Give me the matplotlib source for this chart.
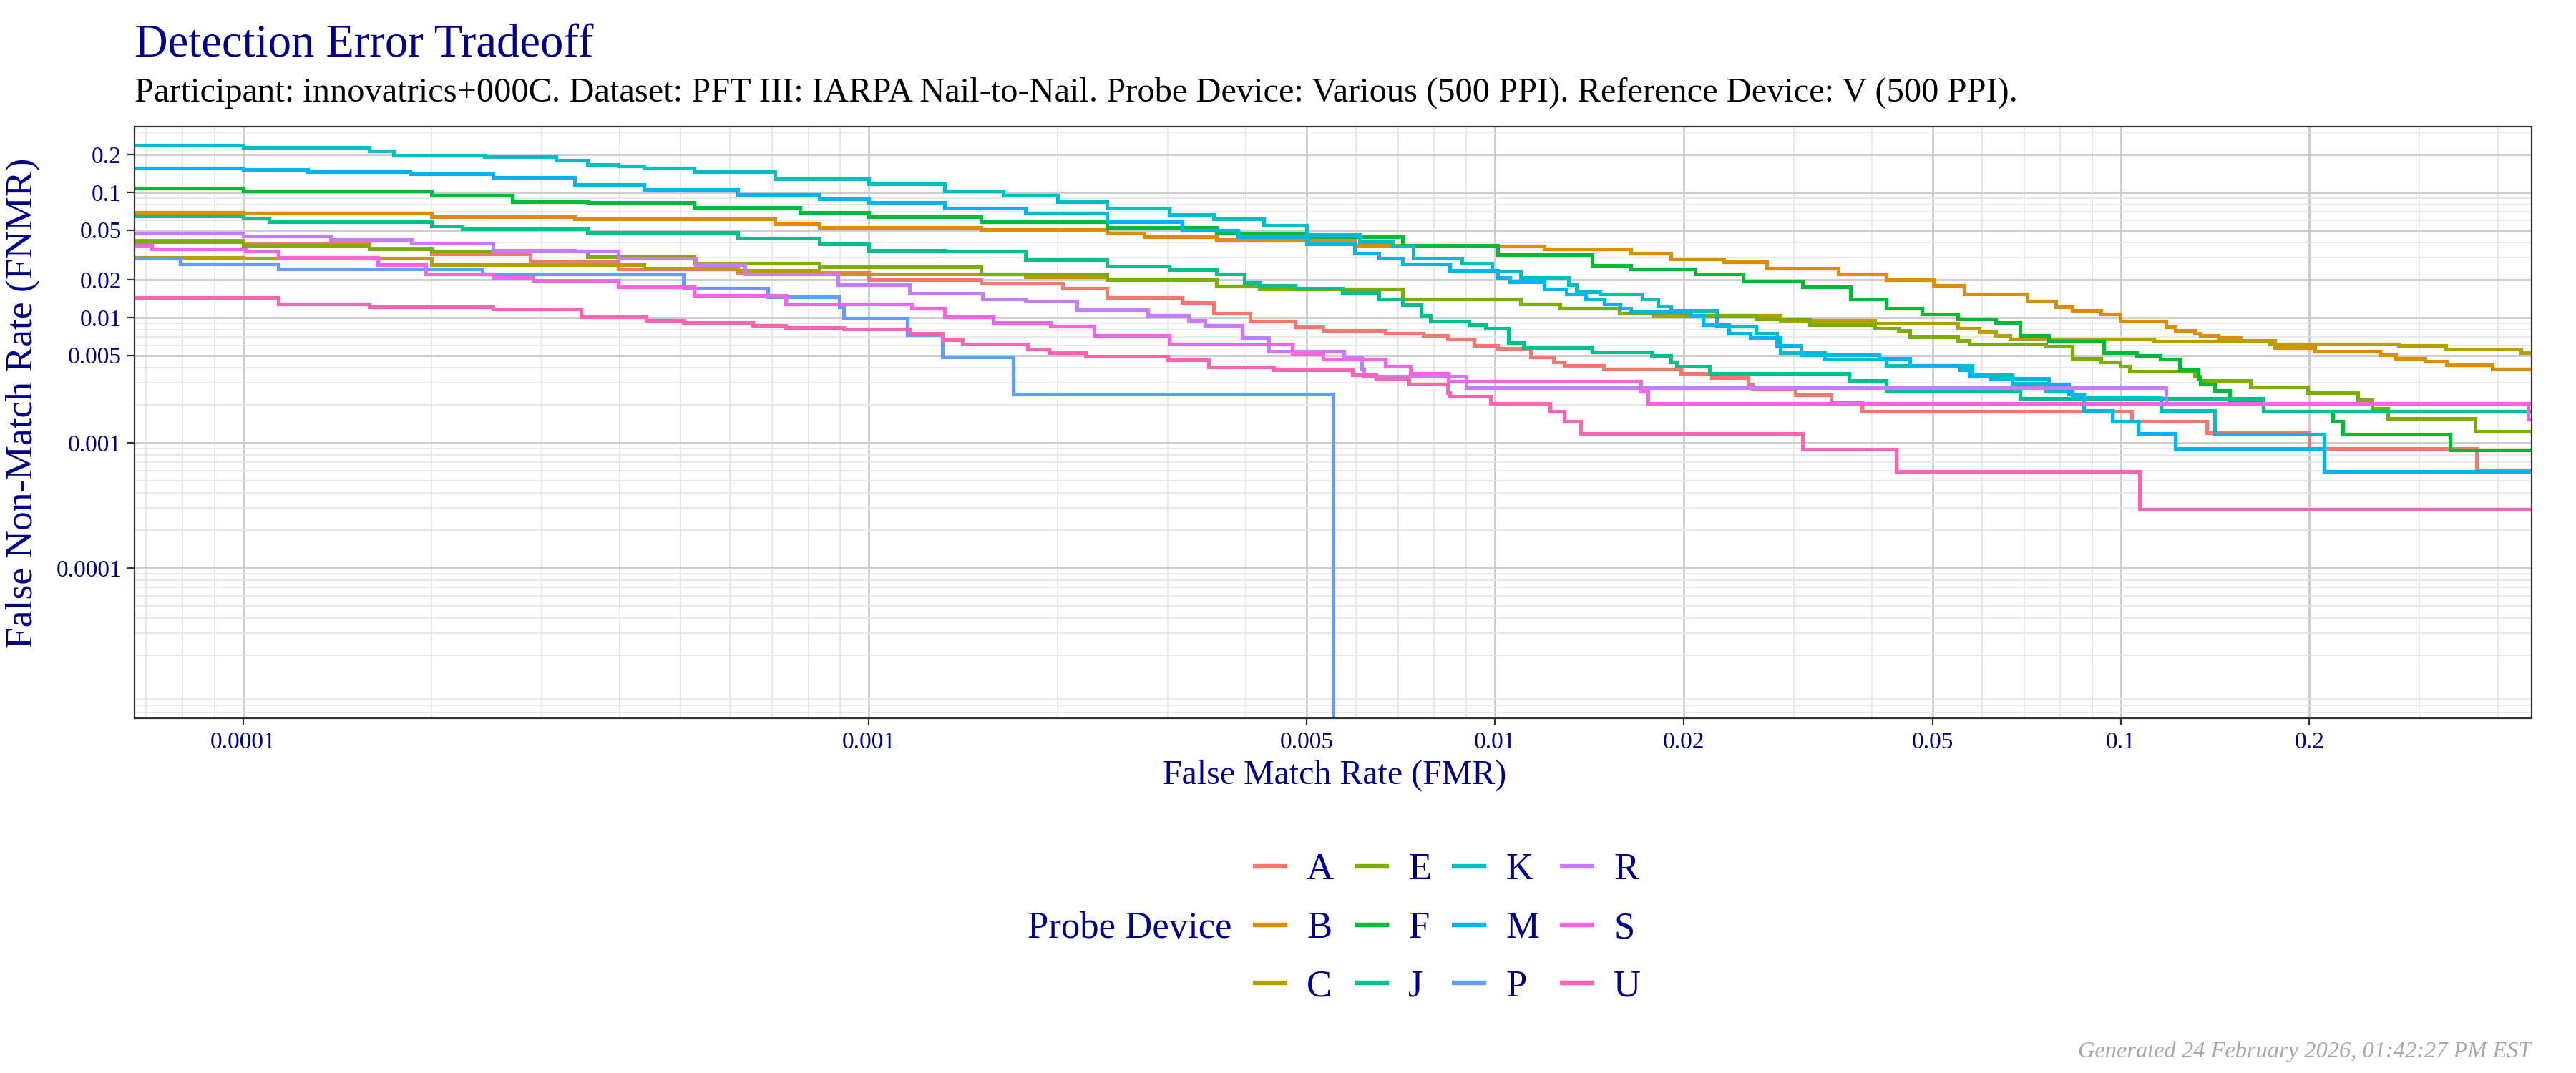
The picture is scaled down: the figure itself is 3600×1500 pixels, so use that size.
import matplotlib

matplotlib.use("Agg")
import matplotlib.pyplot as plt
import numpy as np
from matplotlib.lines import Line2D
from matplotlib.ticker import FixedLocator, LogLocator, NullFormatter

NAVY = "#00008B"
plt.rcParams["font.family"] = ["Liberation Serif", "DejaVu Serif"]

devices = ["A", "B", "C", "E", "F", "J", "K", "M", "P", "R", "S", "U"]
colours = ["#F8766D", "#DE8C00", "#B79F00", "#7CAE00", "#00BA38", "#00C08B",
           "#00BFC4", "#00B4F0", "#619CFF", "#C77CFF", "#F564E3", "#FF64B0"]

x_breaks = [1e-4, 1e-3, 5e-3, 1e-2, 2e-2, 5e-2, 0.1, 0.2]
x_labels = ["0.0001", "0.001", "0.005", "0.01", "0.02", "0.05", "0.1", "0.2"]
y_breaks = [1e-4, 1e-3, 5e-3, 1e-2, 2e-2, 5e-2, 0.1, 0.2]
y_labels = ["0.0001", "0.001", "0.005", "0.01", "0.02", "0.05", "0.1", "0.2"]

# step points (FMR, FNMR), one pair of lists per probe device
fmr_a = [5.0e-5, 1.0e-4, 1.59e-4, 2.0e-4, 2.88e-4, 3.98e-4, 6.17e-4, 1.0e-3, 1.51e-3,
         2.04e-3, 2.4e-3, 3.16e-3, 3.55e-3, 4.06e-3, 4.79e-3, 5.32e-3, 6.68e-3, 7.69e-3,
         8.39e-3, 9.25e-3, 0.0101, 0.0114, 0.0124, 0.0129, 0.0149, 0.0198, 0.0222, 0.0254,
         0.0258, 0.0302, 0.0344, 0.0386, 0.104, 0.137, 0.200, 0.370, 0.5]
fnmr_a = [0.0411, 0.0394, 0.036, 0.0324, 0.0283, 0.0243, 0.0228, 0.0200, 0.0187, 0.0171,
          0.0144, 0.0132, 0.0108, 0.00933, 0.00836, 0.00783, 0.0075, 0.00717, 0.00672,
          0.00601, 0.00564, 0.00483, 0.00443, 0.00415, 0.00388, 0.00359, 0.00329, 0.00292,
          0.00271, 0.0024, 0.0021, 0.00179, 0.00148, 0.0012, 0.000895, 0.000604, 0.000604]

fmr_b = [5.0e-5, 1.0e-4, 2.0e-4, 3.39e-4, 7.08e-4, 8.32e-4, 1.51e-3, 2.4e-3, 2.75e-3,
         3.59e-3, 4.2e-3, 5.96e-3, 8.47e-3, 0.012, 0.0165, 0.0191, 0.0232, 0.0272, 0.0354,
         0.0422, 0.0502, 0.0562, 0.0708, 0.0787, 0.0836, 0.0929, 0.0998, 0.118, 0.122,
         0.131, 0.134, 0.143, 0.155, 0.176, 0.204, 0.259, 0.275, 0.306, 0.331, 0.392, 0.5]
fnmr_b = [0.0695, 0.068, 0.0637, 0.061, 0.0558, 0.0524, 0.0501, 0.0469, 0.0444, 0.042,
          0.0413, 0.0378, 0.037, 0.0354, 0.0325, 0.0294, 0.0279, 0.0249, 0.0224, 0.02,
          0.018, 0.0155, 0.0135, 0.0121, 0.0114, 0.0106, 0.00933, 0.00836, 0.00783, 0.0075,
          0.00717, 0.00687, 0.00657, 0.00575, 0.0054, 0.00505, 0.00473, 0.00447, 0.00418,
          0.00388, 0.00388]

fmr_c = [5.0e-5, 1.0e-4, 2.0e-4, 4.37e-4, 6.17e-4, 8.32e-4, 1.78e-3, 2.4e-3, 3.59e-3,
         4.2e-3, 7.11e-3, 0.011, 0.0127, 0.0158, 0.0179, 0.0286, 0.0404, 0.0548, 0.0594,
         0.0631, 0.0665, 0.113, 0.173, 0.278, 0.330, 0.436, 0.5]
fnmr_c = [0.0303, 0.0296, 0.0265, 0.0248, 0.0238, 0.0223, 0.021, 0.02, 0.0179, 0.0168,
          0.0141, 0.0129, 0.0119, 0.0108, 0.0104, 0.00953, 0.00893, 0.00818, 0.0077,
          0.00717, 0.00672, 0.00643, 0.00615, 0.00595, 0.00556, 0.00527, 0.00527]

fmr_e = [5.0e-5, 1.0e-4, 1.59e-4, 2.0e-4, 3.55e-4, 5.25e-4, 8.32e-4, 1.51e-3, 2.4e-3,
         3.59e-3, 4.2e-3, 7.11e-3, 0.011, 0.0127, 0.0158, 0.0202, 0.0261, 0.0318, 0.0404,
         0.0441, 0.046, 0.0548, 0.0573, 0.0759, 0.0836, 0.0929, 0.0998, 0.1033, 0.131,
         0.134, 0.161, 0.199, 0.239, 0.252, 0.267, 0.368, 0.5]
fnmr_e = [0.0403, 0.0377, 0.0353, 0.0338, 0.0305, 0.0271, 0.0254, 0.0223, 0.0204, 0.0179,
          0.017, 0.0141, 0.0129, 0.0119, 0.0108, 0.0104, 0.00975, 0.00873, 0.00818,
          0.00783, 0.00702, 0.00657, 0.00615, 0.00589, 0.00473, 0.00443, 0.00406, 0.00372,
          0.0034, 0.00312, 0.0028, 0.00251, 0.0022, 0.00189, 0.00156, 0.00124, 0.00124]

fmr_f = [5.0e-5, 1.0e-4, 2.0e-4, 2.69e-4, 3.55e-4, 5.25e-4, 7.76e-4, 1.0e-3, 1.51e-3,
         2.4e-3, 3.59e-3, 5.0e-3, 7.11e-3, 0.0101, 0.0143, 0.0165, 0.0209, 0.0249, 0.031,
         0.037, 0.0422, 0.0481, 0.0548, 0.0631, 0.069, 0.0766, 0.0938, 0.106, 0.1156,
         0.124, 0.133, 0.134, 0.141, 0.149, 0.169, 0.218, 0.226, 0.336, 0.5]
fnmr_f = [0.1076, 0.103, 0.0944, 0.0847, 0.0828, 0.0759, 0.0695, 0.0637, 0.0584, 0.0524,
          0.0469, 0.044, 0.0378, 0.0318, 0.0261, 0.0244, 0.0224, 0.0196, 0.0176, 0.0141,
          0.0119, 0.0106, 0.00975, 0.00912, 0.00717, 0.00643, 0.00527, 0.00494, 0.00463,
          0.0038, 0.00326, 0.00292, 0.00262, 0.0021, 0.00177, 0.00148, 0.00117, 0.000877,
          0.000877]

fmr_j = [5.0e-5, 1.0e-4, 1.1e-4, 2.0e-4, 2.24e-4, 3.55e-4, 6.17e-4, 8.32e-4, 1.0e-3,
         1.32e-3, 1.78e-3, 2.4e-3, 3.02e-3, 3.59e-3, 3.98e-3, 4.2e-3, 4.79e-3, 5.7e-3,
         6.52e-3, 7.11e-3, 7.62e-3, 7.89e-3, 9.08e-3, 9.66e-3, 0.0105, 0.0111, 0.0143,
         0.0178, 0.0191, 0.0195, 0.022, 0.0368, 0.0422, 0.069, 0.169, 0.5]
fnmr_j = [0.0651, 0.0624, 0.0584, 0.0535, 0.0512, 0.048, 0.043, 0.0385, 0.0345, 0.0338,
          0.029, 0.0259, 0.0242, 0.0223, 0.019, 0.018, 0.0172, 0.0158, 0.0141, 0.0127,
          0.0104, 0.00933, 0.00873, 0.00818, 0.00628, 0.00575, 0.00532, 0.00494, 0.00443,
          0.00406, 0.00356, 0.00312, 0.00262, 0.00225, 0.00177, 0.00177]

fmr_k = [5.0e-5, 1.0e-4, 1.59e-4, 1.74e-4, 2.43e-4, 3.16e-4, 3.55e-4, 3.98e-4, 4.37e-4,
         5.25e-4, 7.08e-4, 1.0e-3, 1.32e-3, 1.64e-3, 2.0e-3, 2.4e-3, 3.02e-3, 3.55e-3,
         4.27e-3, 5.0e-3, 6.07e-3, 6.86e-3, 7.41e-3, 8.85e-3, 9.9e-3, 0.011, 0.0131,
         0.0135, 0.0147, 0.0172, 0.0182, 0.0191, 0.0226, 0.0261, 0.0282, 0.0286, 0.0336,
         0.0422, 0.0578, 0.0671, 0.0759, 0.0836, 0.116, 0.141, 0.211, 0.5]
fnmr_k = [0.237, 0.229, 0.215, 0.199, 0.192, 0.181, 0.167, 0.163, 0.156, 0.146, 0.128,
          0.117, 0.103, 0.0944, 0.0847, 0.0743, 0.0666, 0.061, 0.0542, 0.046, 0.0404,
          0.037, 0.0297, 0.0272, 0.0234, 0.0209, 0.0184, 0.0161, 0.0154, 0.0141, 0.0124,
          0.0114, 0.00855, 0.0075, 0.00687, 0.00527, 0.00467, 0.00415, 0.00348, 0.00299,
          0.00256, 0.0023, 0.0018, 0.00117, 0.00059, 0.00059]

fmr_m = [5.0e-5, 1.0e-4, 1.27e-4, 1.85e-4, 2.51e-4, 3.39e-4, 4.37e-4, 6.17e-4, 8.32e-4,
         1.0e-3, 1.32e-3, 1.78e-3, 2.4e-3, 3.16e-3, 3.89e-3, 5.0e-3, 5.96e-3, 6.52e-3,
         7.11e-3, 8.47e-3, 0.0101, 0.01055, 0.012, 0.013, 0.01396, 0.01496, 0.01585,
         0.0165, 0.02056, 0.0215, 0.02366, 0.0256, 0.0282, 0.0308, 0.0411, 0.046, 0.0553,
         0.0573, 0.0617, 0.0766, 0.0826, 0.0873, 0.097, 0.1064, 0.122, 0.211, 0.5]
fnmr_m = [0.156, 0.153, 0.146, 0.14, 0.131, 0.115, 0.105, 0.0966, 0.0885, 0.0828, 0.0743,
          0.068, 0.0584, 0.05, 0.0444, 0.0385, 0.0325, 0.0297, 0.0267, 0.0239, 0.0209,
          0.0192, 0.0168, 0.0154, 0.0141, 0.0129, 0.0119, 0.0111, 0.0104, 0.00873, 0.0075,
          0.00687, 0.00601, 0.00505, 0.00473, 0.00415, 0.0038, 0.0034, 0.00326, 0.00292,
          0.00245, 0.0018, 0.00148, 0.00119, 0.000895, 0.00059, 0.00059]

fmr_p = [5.0e-5, 7.94e-5, 1.14e-4, 2.41e-4, 5.05e-4, 6.89e-4, 8.97e-4, 9.1e-4, 1.15e-3,
         1.31e-3, 1.70e-3, 5.51e-3]
fnmr_p = [0.0296, 0.0269, 0.0243, 0.0223, 0.0171, 0.0147, 0.0121, 0.0099, 0.0073,
          0.00482, 0.00244, 1e-7]

fmr_r = [5.0e-5, 1.0e-4, 1.38e-4, 1.86e-4, 2.51e-4, 3.39e-4, 3.98e-4, 5.28e-4, 6.34e-4,
         8.91e-4, 1.16e-3, 1.52e-3, 1.78e-3, 2.15e-3, 2.79e-3, 3.24e-3, 3.44e-3, 3.95e-3,
         4.35e-3, 5.73e-3, 6.12e-3, 6.18e-3, 8.99e-3, 0.118, 0.5]
fnmr_r = [0.0469, 0.0449, 0.042, 0.0394, 0.0345, 0.0338, 0.0296, 0.0265, 0.0223, 0.0183,
          0.0157, 0.0141, 0.0135, 0.0116, 0.0104, 0.00949, 0.00869, 0.00689, 0.0054,
          0.00483, 0.00388, 0.0034, 0.00274, 0.00206, 0.00206]

fmr_s = [5.0e-5, 7.14e-5, 1.01e-4, 1.14e-4, 1.64e-4, 1.96e-4, 2.51e-4, 2.91e-4, 3.98e-4,
         5.25e-4, 7.36e-4, 1.17e-3, 1.32e-3, 1.58e-3, 1.95e-3, 2.29e-3, 3.02e-3, 4.74e-3,
         5.32e-3, 6.68e-3, 7.33e-3, 8.43e-3, 0.0171, 0.01754, 0.447, 0.5]
fnmr_s = [0.0377, 0.0353, 0.0338, 0.0303, 0.0265, 0.0223, 0.0208, 0.0199, 0.0175, 0.015,
          0.0129, 0.0118, 0.0101, 0.00908, 0.0085, 0.00714, 0.00612, 0.00516, 0.00467,
          0.00409, 0.00359, 0.00309, 0.00256, 0.00206, 0.00155, 0.00155]

fmr_u = [5.0e-5, 1.14e-4, 1.59e-4, 2.51e-4, 3.47e-4, 4.41e-4, 5.05e-4, 6.53e-4, 7.36e-4,
         9.1e-4, 1.16e-3, 1.31e-3, 1.41e-3, 1.79e-3, 1.94e-3, 2.22e-3, 3.0e-3, 3.49e-3,
         4.43e-3, 5.92e-3, 6.46e-3, 7.29e-3, 8.39e-3, 8.47e-3, 9.84e-3, 0.01225, 0.01291,
         0.01371, 0.031, 0.0437, 0.107, 0.5]
fnmr_u = [0.0144, 0.0129, 0.0121, 0.0117, 0.0101, 0.00948, 0.00908, 0.00869, 0.00832,
          0.00814, 0.00746, 0.00668, 0.00612, 0.00561, 0.00525, 0.00492, 0.0046, 0.00404,
          0.0038, 0.00348, 0.00326, 0.00292, 0.00251, 0.00235, 0.00206, 0.00177, 0.00148,
          0.00118, 0.000885, 0.00059, 0.000294, 0.000294]

fmr_series = [fmr_a, fmr_b, fmr_c, fmr_e, fmr_f, fmr_j, fmr_k, fmr_m, fmr_p, fmr_r, fmr_s, fmr_u]
fnmr_series = [fnmr_a, fnmr_b, fnmr_c, fnmr_e, fnmr_f, fnmr_j, fnmr_k, fnmr_m, fnmr_p,
               fnmr_r, fnmr_s, fnmr_u]

W, H = 3600, 1500
fig = plt.figure(figsize=(W / 100, H / 100), dpi=100)
left, right, top, bottom = 188, 3538, 177, 1004
ax = fig.add_axes([left / W, 1 - bottom / H, (right - left) / W, (bottom - top) / H])

for name, colour, fmr, fnmr in zip(devices, colours, fmr_series, fnmr_series):
    ax.plot(fmr, fnmr, drawstyle="steps-post", color=colour, linewidth=3.7,
            solid_joinstyle="miter", solid_capstyle="butt", label=name)

ax.set_xscale("log")
ax.set_yscale("log")
ax.set_xlim(6.71e-5, 0.453)
ax.set_ylim(6.3e-6, 0.335)

for axis, breaks, labels in ((ax.xaxis, x_breaks, x_labels), (ax.yaxis, y_breaks, y_labels)):
    axis.set_major_locator(FixedLocator(breaks))
    axis.set_ticklabels(labels)
    axis.set_minor_locator(LogLocator(base=10, subs=np.arange(2, 10), numticks=100))
    axis.set_minor_formatter(NullFormatter())

ax.set_axisbelow(True)
ax.grid(which="minor", color="#E6E6E6", linewidth=1.2)
ax.grid(which="major", color="#CBCBCB", linewidth=2.0)
ax.tick_params(which="major", length=7, width=1.6, color="#333333", labelsize=24,
               labelcolor=NAVY, pad=6)
ax.tick_params(which="minor", length=0)
for spine in ax.spines.values():
    spine.set_color("#333333")
    spine.set_linewidth(1.6)

fig.text(1865 / W, 1 - 1084 / H, "False Match Rate (FMR)", color=NAVY, fontsize=34.5,
         ha="center", va="center")
fig.text(32 / W, 1 - 563 / H, "False Non-Match Rate (FNMR)", color=NAVY, fontsize=38.5,
         ha="center", va="center", rotation=90)

fig.text(left / W, 1 - 79 / H, "Detection Error Tradeoff", color=NAVY, fontsize=46.5,
         ha="left", va="baseline")
fig.text(left / W, 1 - 142 / H,
         "Participant: innovatrics+000C. Dataset: PFT III: IARPA Nail-to-Nail. "
         "Probe Device: Various (500 PPI). Reference Device: V (500 PPI).",
         color="black", fontsize=34.8, ha="left", va="baseline")

handles = [Line2D([], [], color=c, linewidth=4.6, solid_capstyle="butt") for c in colours]
fig.legend(handles, devices, ncol=4, loc="center left",
           bbox_to_anchor=(1751 / W, 1 - 1298 / H), frameon=False, fontsize=38,
           labelcolor=NAVY, handlelength=0.9, handletextpad=0.52, columnspacing=0.55,
           labelspacing=0.64, borderpad=0, borderaxespad=0)
fig.text(1721 / W, 1 - 1298 / H, "Probe Device", color=NAVY, fontsize=38,
         ha="right", va="center")

fig.text(3537 / W, 1 - 1478 / H, "Generated 24 February 2026, 01:42:27 PM EST",
         color="#A8A8A8", fontsize=23.3, style="italic", ha="right", va="baseline")

fig.savefig("out.png", dpi=100)
plt.close(fig)
